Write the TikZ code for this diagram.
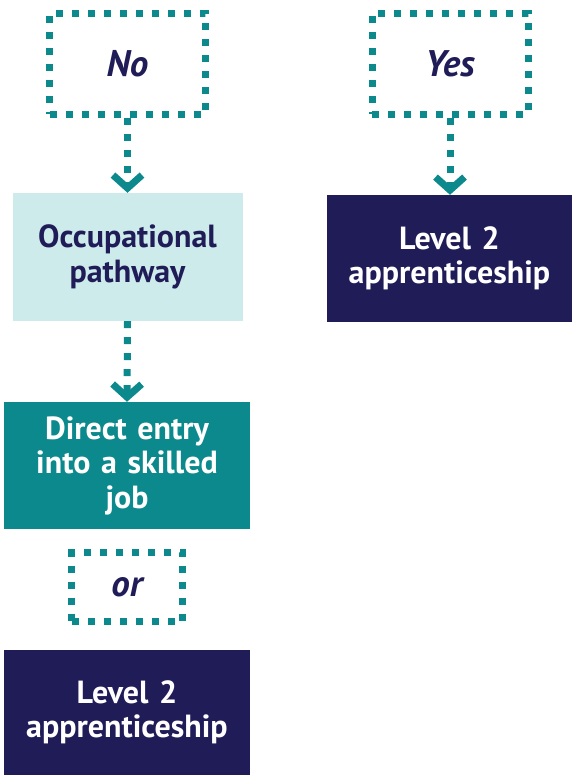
\documentclass[tikz,border=0pt]{standalone}
\usepackage{fontspec}
\setmainfont{PT Sans}
\definecolor{pathteal}{RGB}{12, 137, 140}
\definecolor{pathlight}{RGB}{204, 235, 234}
\definecolor{pathnavy}{RGB}{32, 28, 88}
\usetikzlibrary{arrows.meta, positioning}
\tikzset{
  answerbox/.style={draw=pathteal, line width=7pt, dash pattern=on 7pt off 9pt,
    text=pathnavy, font=\fontsize{37}{40}\selectfont\bfseries\itshape,
    minimum width=156pt, minimum height=101pt, inner sep=0pt},
  routebox/.style={align=center, inner sep=0pt, text width=230pt,
    font=\fontsize{32}{34.5}\selectfont\bfseries},
  flowarrow/.style={draw=pathteal, line width=7pt, dash pattern=on 7pt off 9pt,
    -{Straight Barb[length=13pt, width=29pt]}}
}

\begin{document}
\begin{tikzpicture}[x=1pt, y=-1pt]
  \useasboundingbox (0, 0) rectangle (572, 775);

  % Answers
  \node[answerbox] (no) at (127.5, 64) {No};
  \node[answerbox] (yes) at (450, 64) {Yes};

  % Left route
  \node[routebox, fill=pathlight, text=pathnavy, minimum width=229pt, minimum height=128pt]
    (occ) at (127.5, 257) {Occupational\\pathway};
  \node[routebox, fill=pathteal, text=white, minimum width=246pt, minimum height=127pt]
    (direct) at (127, 465.5) {Direct entry\\into a skilled\\job};
  \node[answerbox, minimum width=111pt, minimum height=69pt] (or) at (127, 587) {or};
  \node[routebox, fill=pathnavy, text=white, minimum width=246pt, minimum height=125pt]
    (levelleft) at (127, 712.5) {Level 2\\apprenticeship};

  % Right route
  \node[routebox, fill=pathnavy, text=white, minimum width=245pt, minimum height=127pt]
    (levelright) at (449.5, 258.5) {Level 2\\apprenticeship};

  % Connectors
  \draw[flowarrow] (no.south) -- (occ.north);
  \draw[flowarrow] (occ.south) -- (direct.north);
  \draw[flowarrow] (yes.south) -- (yes.south |- levelright.north);
\end{tikzpicture}
\end{document}
